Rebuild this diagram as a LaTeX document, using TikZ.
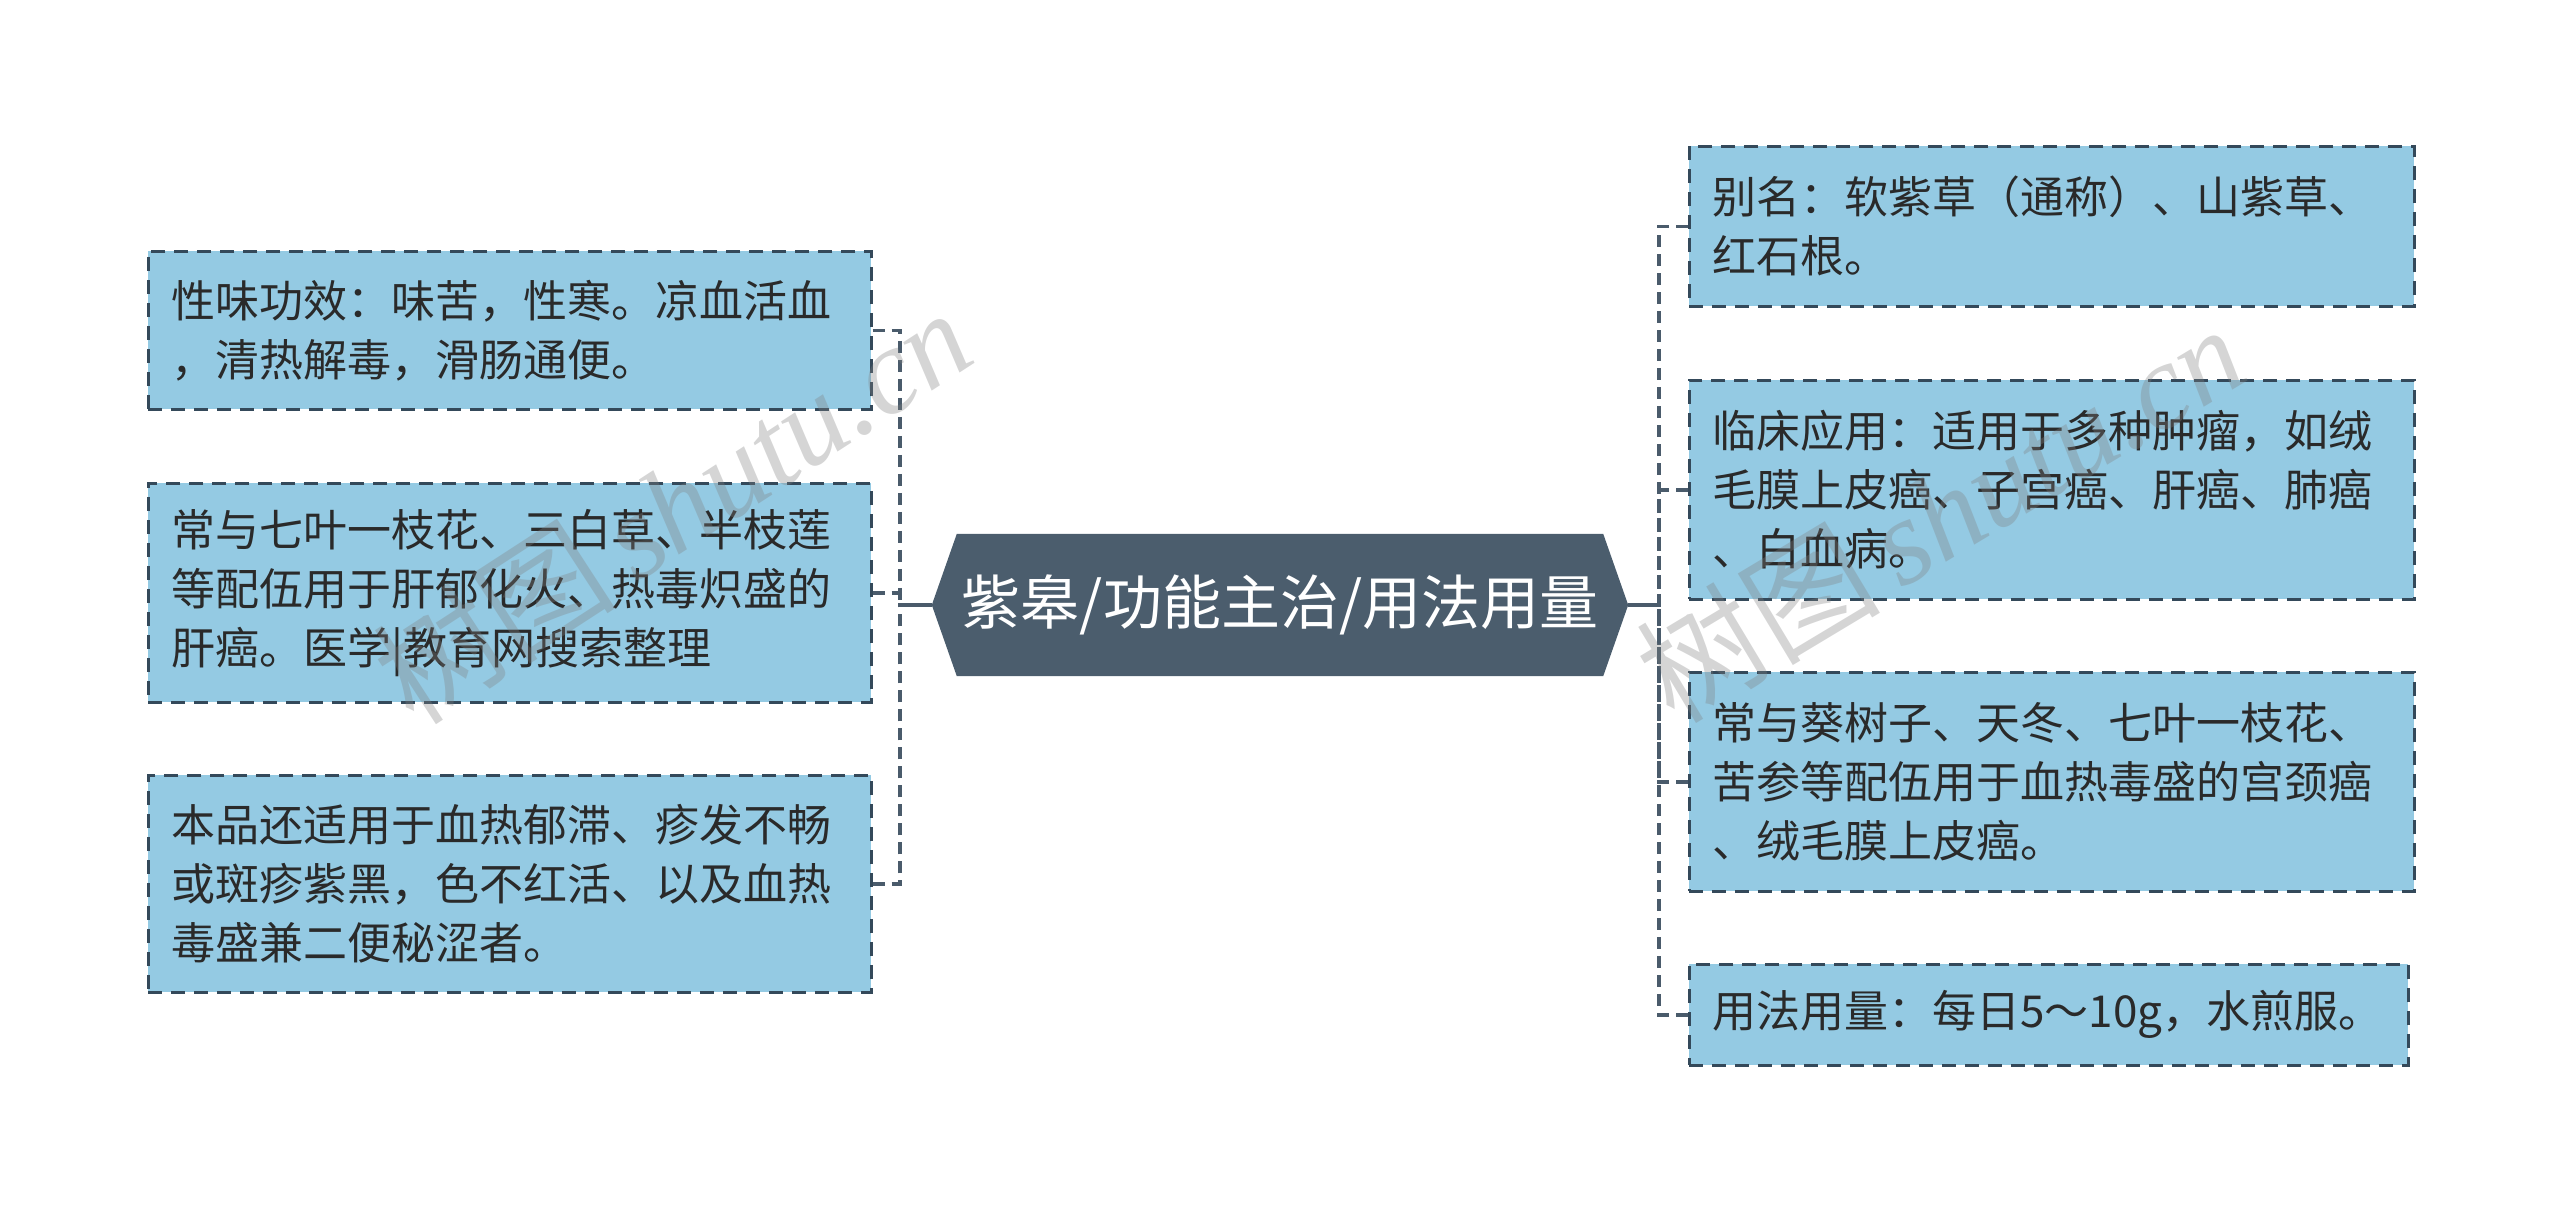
\documentclass[tikz,border=0pt]{standalone}
\usepackage{fontspec}
\setmainfont{Noto Sans CJK SC}
\newfontfamily\wmserif{Liberation Serif}
\usetikzlibrary{backgrounds,calc}
\definecolor{boxfill}{HTML}{94CAE3}
\definecolor{boxline}{HTML}{34495A}
\definecolor{hubfill}{HTML}{4B5D6D}
\definecolor{conncol}{HTML}{4A5B6B}
\definecolor{txtcol}{HTML}{2A2A2A}
\begin{document}
\begin{tikzpicture}[x=1pt,y=-1pt,
  leaf/.style={draw=boxline, fill=boxfill, line width=2.5pt, dash pattern=on 14pt off 9pt,
    text=txtcol, font=\fontsize{44pt}{59pt}\selectfont, align=left, anchor=north west,
    inner xsep=23pt, inner ysep=0pt, text width=677pt},
  hubtext/.style={text=white, font=\fontsize{59pt}{66pt}\selectfont, minimum width=696pt,
    minimum height=142pt, inner sep=0pt},
  conn/.style={draw=conncol, line width=3.5pt, dash pattern=on 12pt off 7pt},
  solidconn/.style={draw=conncol, line width=3.5pt},
  wm/.style={text=gray, opacity=0.33, font=\fontsize{122pt}{122pt}\selectfont}
]
\useasboundingbox (0,0) rectangle (2560,1211);

% central node
\node[hubtext] (c) at (1280,605) {紫皋/功能主治/用法用量};
\begin{scope}[on background layer]
\fill[hubfill] (c.west) -- ($(c.north west)+(25,0)$) -- ($(c.north east)+(-25,0)$) -- (c.east)
  -- ($(c.south east)+(-25,0)$) -- ($(c.south west)+(25,0)$) -- cycle;
\end{scope}

% left leaves
\node[leaf, minimum height=158pt] (l1) at (147,250) {性味功效：味苦，性寒。凉血活血\\，清热解毒，滑肠通便。};
\node[leaf, minimum height=219pt] (l2) at (147,482) {常与七叶一枝花、三白草、半枝莲\\等配伍用于肝郁化火、热毒炽盛的\\肝癌。医学|教育网搜索整理};
\node[leaf, minimum height=217pt] (l3) at (147,774) {本品还适用于血热郁滞、疹发不畅\\或斑疹紫黑，色不红活、以及血热\\毒盛兼二便秘涩者。};

% right leaves
\node[leaf, minimum height=160pt, text width=679pt] (r1) at (1688,145) {别名：软紫草（通称）、山紫草、\\红石根。};
\node[leaf, minimum height=219pt, text width=679pt] (r2) at (1688,379) {临床应用：适用于多种肿瘤，如绒\\毛膜上皮癌、子宫癌、肝癌、肺癌\\、白血病。};
\node[leaf, minimum height=219pt, text width=679pt] (r3) at (1688,671) {常与葵树子、天冬、七叶一枝花、\\苦参等配伍用于血热毒盛的宫颈癌\\、绒毛膜上皮癌。};
\node[leaf, minimum height=101pt, text width=673pt] (r4) at (1688,963) {用法用量：每日5～10g，水煎服。};

% junctions
\coordinate (lj) at (900,605);
\coordinate (rj) at (1659,605);

\draw[solidconn] (c.west) -- (lj);
\draw[solidconn] (c.east) -- (rj);
\draw[conn] (l1.east) -| (lj);
\draw[conn] (l2.east) -| (lj);
\draw[conn] (l3.east) -| (lj);
\draw[conn] (r1.west) -| (rj);
\draw[conn] (r2.west) -| (rj);
\draw[conn] (r3.west) -| (rj);
\draw[conn] (r4.west) -| (rj);

% watermarks
\node[wm, rotate=33] (wm1) at (672,505) {树图\,{\wmserif\itshape shutu.cn}};
\node[wm, rotate=31] (wm2) at (1940,512) {树图\,{\wmserif\itshape shutu.cn}};
\end{tikzpicture}
\end{document}
